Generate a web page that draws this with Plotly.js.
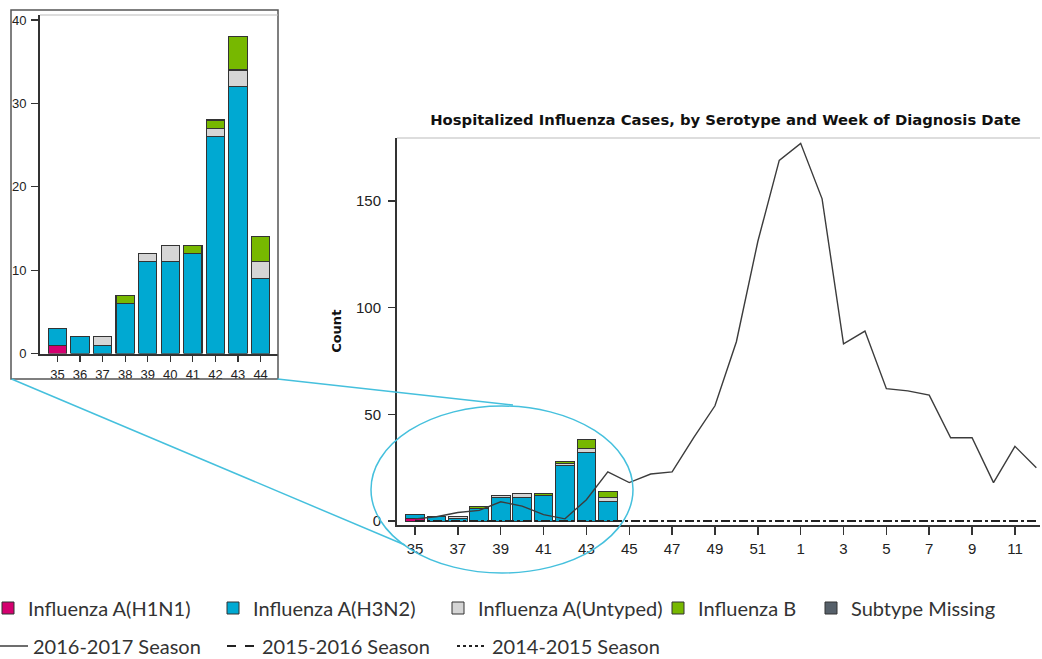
<!DOCTYPE html>
<html>
<head>
<meta charset="utf-8">
<script src="https://cdn.plot.ly/plotly-3.0.1.min.js"></script>
<style>
  html, body { margin: 0; padding: 0; background: #ffffff; }
  #chart { width: 1042px; height: 659px; }
</style>
</head>
<body>
<div id="chart"></div>
<script>
// ---- Data ----
var weeks = ["35","36","37","38","39","40","41","42","43","44","45","46","47","48","49","50","51","52",
             "1","2","3","4","5","6","7","8","9","10","11","12"];
var weekTicks = ["35","37","39","41","43","45","47","49","51","1","3","5","7","9","11"];
var barWeeks = ["35","36","37","38","39","40","41","42","43","44"];

var h1n1     = [1, 0, 0, 0, 0, 0, 0, 0, 0, 0];
var h3n2     = [2, 2, 1, 6, 11, 11, 12, 26, 32, 9];
var untyped  = [0, 0, 1, 0, 1, 2, 0, 1, 2, 2];
var fluB     = [0, 0, 0, 1, 0, 0, 1, 1, 4, 3];
var missing  = [0, 0, 0, 0, 0, 0, 0, 0, 0, 0];

var season1617 = [1, 2, 4, 5, 9, 7, 3, 1, 10, 23, 18, 22, 23, 39, 54, 84, 131, 169,
                  177, 151, 83, 89, 62, 61, 59, 39, 39, 18, 35, 25];
var season1516 = [0,0,0,0,0,0,0,0,0,0,0,0,0,0,0,0,0,0,0,0,0,0,0,0,0,0,0,0,0,0];
var season1415 = [0,0,0,0,0,0,0,0,0,0,0,0,0,0,0,0,0,0,0,0,0,0,0,0,0,0,0,0,0,0];

var mainTicksY = [0, 50, 100, 150];
var insetTicksY = [0, 10, 20, 30, 40];

var seriesNames = ["Influenza A(H1N1)", "Influenza A(H3N2)", "Influenza A(Untyped)", "Influenza B", "Subtype Missing"];
var seasonNames = ["2016-2017 Season", "2015-2016 Season", "2014-2015 Season"];
var seriesValues = [h1n1, h3n2, untyped, fluB, missing];
var seasonValues = [season1617, season1516, season1415];

// ---- Styles / layout positions ----
var seriesColors = ["#d4006f", "#00a9d2", "#d5d5d5", "#77b800", "#56606a"];
var seasonLines = [
  { color: "#3c3c3c", width: 1.4 },
  { color: "#222222", width: 2, dash: "dash" },
  { color: "#222222", width: 2, dash: "dot" }
];
var legendTextLeftRow1 = [28, 253, 478, 698, 851];
var legendTextLeftRow2 = [33, 262, 492];

var W = 1042, H = 659, PH = 589;
function px(x) { return x / W; }
function py(y) { return 1 - y / PH; }

var traces = [];
var legFont = { family: "Lato, sans-serif", size: 20, color: "#333" };
var layoutLegends = {};
var legendCount = 0;
function makeLegend(textLeft, yPix) {
  legendCount++;
  var id = legendCount === 1 ? "legend" : "legend" + legendCount;
  layoutLegends[id] = {
    orientation: "h", x: px(textLeft - 40), xanchor: "left",
    y: py(yPix), yanchor: "middle",
    font: legFont, bgcolor: "rgba(0,0,0,0)", itemwidth: 30, borderwidth: 0
  };
  return id;
}

for (var i = 0; i < seriesNames.length; i++) {
  traces.push({
    type: "bar", name: seriesNames[i], x: barWeeks, y: seriesValues[i],
    xaxis: "x", yaxis: "y", width: 0.87,
    marker: { color: seriesColors[i], line: { color: "#333333", width: 1 } },
    legend: makeLegend(legendTextLeftRow1[i], 608), showlegend: true
  });
}
for (var k = 0; k < seasonNames.length; k++) {
  traces.push({
    type: "scatter", mode: "lines", name: seasonNames[k], x: weeks, y: seasonValues[k],
    xaxis: "x", yaxis: "y", line: seasonLines[k],
    legend: makeLegend(legendTextLeftRow2[k], 646), showlegend: true
  });
}
for (var j = 0; j < seriesNames.length; j++) {
  traces.push({
    type: "bar", name: seriesNames[j], x: barWeeks, y: seriesValues[j],
    xaxis: "x2", yaxis: "y2", width: 0.81,
    marker: { color: seriesColors[j], line: { color: "#333333", width: 1.2 } },
    showlegend: false
  });
}

var tickFont = { family: "Liberation Sans, Arial, sans-serif", size: 15, color: "#222" };
var insetFont = { family: "Liberation Sans, Arial, sans-serif", size: 13, color: "#222" };

var layout = {
  width: W, height: H,
  margin: { l: 0, r: 0, t: 0, b: H - PH, autoexpand: false },
  paper_bgcolor: "#ffffff", plot_bgcolor: "#ffffff",
  barmode: "stack",
  title: {
    text: "<b>Hospitalized Influenza Cases, by Serotype and Week of Diagnosis Date</b>",
    x: px(725.5), xanchor: "center", xref: "paper",
    y: py(120), yanchor: "middle", yref: "paper",
    font: { family: "DejaVu Sans, sans-serif", size: 14.8, color: "#111" }
  },
  xaxis: {
    domain: [px(397), px(1040)], anchor: "y",
    type: "category", categoryorder: "array", categoryarray: weeks,
    range: [-0.84, 29.17], tickvals: weekTicks, ticktext: weekTicks,
    ticks: "outside", ticklen: 8, tickwidth: 1.5, tickcolor: "#333",
    showline: true, linecolor: "#333", linewidth: 2,
    showgrid: false, zeroline: false, tickfont: tickFont, ticklabelstandoff: 1
  },
  yaxis: {
    domain: [py(524.5), py(138)], anchor: "x",
    range: [-1.64, 179.5], tickvals: mainTicksY,
    ticks: "outside", ticklen: 7, tickwidth: 1.5, tickcolor: "#333",
    showline: true, linecolor: "#333", linewidth: 2,
    showgrid: false, zeroline: false, tickfont: tickFont, ticklabelstandoff: 4,
    title: { text: "<b>Count</b>", standoff: 11,
             font: { family: "DejaVu Sans, sans-serif", size: 13, color: "#111" } }
  },
  xaxis2: {
    domain: [px(40), px(278)], anchor: "y2",
    type: "category", categoryorder: "array", categoryarray: barWeeks,
    range: [-0.77, 9.77],
    ticks: "outside", ticklen: 6, tickwidth: 1.2, tickcolor: "#333",
    showline: true, linecolor: "#333", linewidth: 2,
    showgrid: false, zeroline: false, tickfont: insetFont, ticklabelstandoff: 2
  },
  yaxis2: {
    domain: [py(353.5), py(15)], anchor: "x2",
    range: [0, 40.6], tickvals: insetTicksY,
    ticks: "outside", ticklen: 7, tickwidth: 1.2, tickcolor: "#333",
    showline: true, linecolor: "#333", linewidth: 2,
    showgrid: false, zeroline: false, tickfont: insetFont, ticklabelstandoff: 2
  },
  shapes: [
    { type: "rect", xref: "paper", yref: "paper", x0: px(11), x1: px(278), y0: py(379), y1: py(10),
      line: { color: "#555", width: 1.5 }, layer: "above" },
    { type: "line", xref: "paper", yref: "paper", x0: px(40), x1: px(278), y0: py(15), y1: py(15),
      line: { color: "#bbb", width: 1 } },
    { type: "line", xref: "paper", yref: "paper", x0: px(397), x1: px(1040), y0: py(138), y1: py(138),
      line: { color: "#bbb", width: 1 } },
    { type: "circle", xref: "paper", yref: "paper", x0: px(371), x1: px(633), y0: py(573), y1: py(406),
      line: { color: "#45c0dd", width: 1.5 }, layer: "above" },
    { type: "line", xref: "paper", yref: "paper", x0: px(11.5), y0: py(379), x1: px(405), y1: py(545),
      line: { color: "#45c0dd", width: 1.5 }, layer: "above" },
    { type: "line", xref: "paper", yref: "paper", x0: px(277.5), y0: py(379), x1: px(513), y1: py(405),
      line: { color: "#45c0dd", width: 1.5 }, layer: "above" }
  ]
};
for (var key in layoutLegends) { layout[key] = layoutLegends[key]; }

Plotly.newPlot("chart", traces, layout, { displayModeBar: false, staticPlot: true });
</script>
</body>
</html>
